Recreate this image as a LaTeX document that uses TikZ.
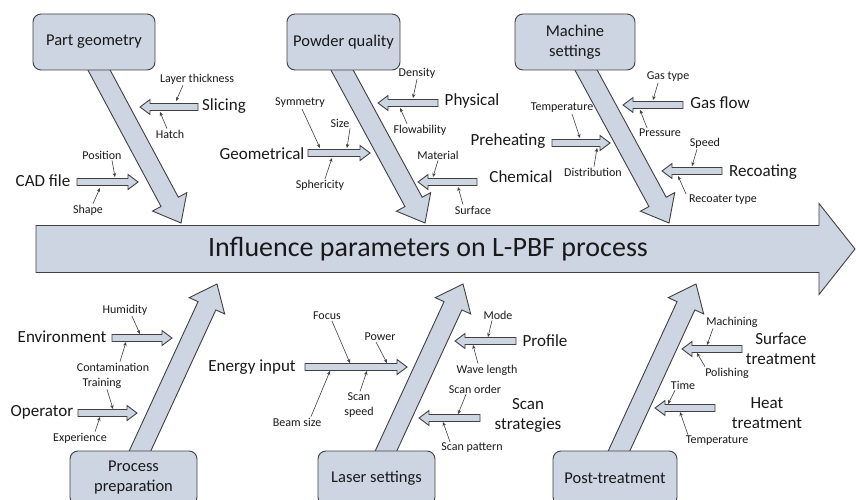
\documentclass[tikz,border=0pt]{standalone}
\usepackage{fontspec}
\setmainfont{Carlito}
\usetikzlibrary{calc,arrows.meta}

\definecolor{blockfill}{RGB}{205,213,227}
\definecolor{edgegray}{RGB}{64,64,64}
\definecolor{inkgray}{RGB}{25,25,25}

% block arrow: [opts]{from}{to}{half shaft width}{half head width}{head length}
\newcommand{\blockarrow}[6][]{%
  \coordinate (ba-p) at ($(#3)!#6!(#2)$);
  \draw[blockline,#1] ($(#2)!#4!90:(#3)$) -- ($(ba-p)!#4!90:(#3)$)
    -- ($(ba-p)!#5!90:(#3)$) -- (#3) -- ($(ba-p)!#5!-90:(#3)$)
    -- ($(ba-p)!#4!-90:(#3)$) -- ($(#2)!#4!-90:(#3)$) -- cycle;}
% small branch arrow
\newcommand{\branch}[2]{\blockarrow{#1}{#2}{3.5pt}{7.5pt}{10pt}}
% big category arrow
\newcommand{\bigarrow}[2]{\blockarrow{#1}{#2}{9.8pt}{19.5pt}{24pt}}
% pointer from a label (anchor, x shift) to a named target point
\newcommand{\pointer}[5]{\coordinate (#4) at (#5);
  \draw[pointer] ([xshift=#3pt]#1.#2) -- (#4);}

\begin{document}
\begin{tikzpicture}[x=1pt,y=-1pt,
  blockline/.style={draw=edgegray,fill=blockfill,line width=0.9pt,line join=miter},
  catbox/.style={draw=edgegray,fill=blockfill,line width=0.9pt,rounded corners=8pt,
    align=center,font=\fontsize{16.5}{20}\selectfont,text=inkgray,inner sep=0pt},
  cat/.style={font=\fontsize{17}{20}\selectfont,text=inkgray,align=center,inner sep=1pt},
  sub/.style={font=\fontsize{12}{15}\selectfont,text=inkgray,align=center,inner sep=1pt},
  pointer/.style={draw=edgegray,line width=0.6pt,-{Stealth[length=4pt,width=3.5pt]}}]

\clip (0,0) rectangle (856,500);
\fill[white] (0,0) rectangle (856,500);

% ---- main arrow ----
\coordinate (main-s) at (36,249);
\coordinate (main-e) at (855,249);
\blockarrow{main-s}{main-e}{23.5pt}{45.5pt}{36pt}
\node[font=\fontsize{28}{32}\selectfont,text=inkgray] (title) at (428,249)
  {Influence parameters on L-PBF process};

% ---- category arrows (drawn before the boxes so the boxes cover their roots) ----
\coordinate (pg-root) at (94.7,62);   \coordinate (pg-tip) at (181,223);
\coordinate (pq-root) at (337.7,62);  \coordinate (pq-tip) at (425,223);
\coordinate (ms-root) at (581.7,62);  \coordinate (ms-tip) at (669,223);
\coordinate (pp-root) at (136.3,459); \coordinate (pp-tip) at (217,284);
\coordinate (ls-root) at (382.3,459); \coordinate (ls-tip) at (463,284);
\coordinate (pt-root) at (615.3,459); \coordinate (pt-tip) at (696,284);
\bigarrow{pg-root}{pg-tip}
\bigarrow{pq-root}{pq-tip}
\bigarrow{ms-root}{ms-tip}
\bigarrow{pp-root}{pp-tip}
\bigarrow{ls-root}{ls-tip}
\bigarrow{pt-root}{pt-tip}

% ---- category boxes ----
\node[catbox,minimum width=122pt,minimum height=56pt] (pg) at (94,42) {Part geometry};
\node[catbox,minimum width=113pt,minimum height=56pt] (pq) at (343.5,42) {Powder quality};
\node[catbox,minimum width=120pt,minimum height=56pt] (ms) at (575,42) {Machine\\settings};
\node[catbox,minimum width=127pt,minimum height=54pt] (pp) at (133.5,478) {Process\\preparation};
\node[catbox,minimum width=117pt,minimum height=54pt] (ls) at (376.5,478) {Laser settings};
\node[catbox,minimum width=124pt,minimum height=54pt] (pt) at (615,478) {Post-treatment};

% ---- Part geometry ----
\coordinate (sl-t) at (198,107); \coordinate (sl-h) at (140,107); \branch{sl-t}{sl-h}
\node[cat] (sl) at (224,106) {Slicing};
\node[sub] (lt) at (197,79) {Layer thickness};
\node[sub] (ha) at (170,134) {Hatch};
\pointer{lt}{south}{-14}{lt-p}{176,101}
\pointer{ha}{north}{-3}{ha-p}{160,112}

\coordinate (cf-t) at (77,182); \coordinate (cf-h) at (138,182); \branch{cf-t}{cf-h}
\node[cat] (cf) at (43,181) {CAD file};
\node[sub] (po) at (102,155) {Position};
\node[sub] (sh) at (88,210) {Shape};
\pointer{po}{south}{10}{po-p}{115,177}
\pointer{sh}{north}{5}{sh-p}{100,188}

% ---- Powder quality ----
\coordinate (ph-t) at (438,103); \coordinate (ph-h) at (378,103); \branch{ph-t}{ph-h}
\node[cat] (ph) at (472,101) {Physical};
\node[sub] (de) at (417,73) {Density};
\node[sub] (fl) at (420,130) {Flowability};
\pointer{de}{south}{0}{de-p}{413,98}
\pointer{fl}{north}{-13}{fl-p}{400,108}

\coordinate (ge-t) at (308,153); \coordinate (ge-h) at (370,153); \branch{ge-t}{ge-h}
\node[cat] (ge) at (262,154) {Geometrical};
\node[sub] (sy) at (300,103) {Symmetry};
\node[sub] (si) at (340,123) {Size};
\node[sub] (sp) at (320,185) {Sphericity};
\pointer{sy}{south}{2}{sy-p}{320,148}
\pointer{si}{south}{10}{si-p}{347,148}
\pointer{sp}{north}{5}{sp-p}{332,158}

\coordinate (ch-t) at (477,182); \coordinate (ch-h) at (418,182); \branch{ch-t}{ch-h}
\node[cat] (ch) at (521,177) {Chemical};
\node[sub] (ma) at (438,155) {Material};
\node[sub] (su) at (473,210) {Surface};
\pointer{ma}{south}{0}{ma-p}{433,177}
\pointer{su}{north}{-10}{su-p}{458,187}

% ---- Machine settings ----
\coordinate (pr-t) at (552,143); \coordinate (pr-h) at (610,143); \branch{pr-t}{pr-h}
\node[cat] (pr) at (508,141) {Preheating};
\node[sub] (te) at (562,108) {Temperature};
\node[sub] (di) at (593,172) {Distribution};
\pointer{te}{south}{10}{te-p}{580,138}
\pointer{di}{north}{1}{di-p}{597,148}

\coordinate (gf-t) at (683,105); \coordinate (gf-h) at (623,105); \branch{gf-t}{gf-h}
\node[cat] (gf) at (720,103) {Gas flow};
\node[sub] (gt) at (668,77) {Gas type};
\node[sub] (pe) at (660,133) {Pressure};
\pointer{gt}{south}{-10}{gt-p}{653,100}
\pointer{pe}{north}{-13}{pe-p}{640,110}

\coordinate (rc-t) at (722,171); \coordinate (rc-h) at (662,171); \branch{rc-t}{rc-h}
\node[cat] (rc) at (763,172) {Recoating};
\node[sub] (spd) at (705,143) {Speed};
\node[sub] (rt) at (723,200) {Recoater type};
\pointer{spd}{south}{-8}{spd-p}{692,166}
\pointer{rt}{north}{-37}{rt-p}{678,176}

% ---- Process preparation ----
\coordinate (en-t) at (112,338); \coordinate (en-h) at (172,338); \branch{en-t}{en-h}
\node[cat] (en) at (62,337) {Environment};
\node[sub] (hu) at (125,310) {Humidity};
\node[sub] (co) at (113,367) {Contamination};
\pointer{hu}{south}{7}{hu-p}{140,334}
\pointer{co}{north}{7}{co-p}{126,342}

\coordinate (op-t) at (78,413); \coordinate (op-h) at (137,413); \branch{op-t}{op-h}
\node[cat] (op) at (42,412) {Operator};
\node[sub] (tr) at (102,383) {Training};
\node[sub] (ex) at (80,438) {Experience};
\pointer{tr}{south}{5}{tr-p}{113,409}
\pointer{ex}{north}{15}{ex-p}{100,417}

% ---- Laser settings ----
\coordinate (ei-t) at (305,367); \coordinate (ei-h) at (407,367); \branch{ei-t}{ei-h}
\node[cat] (ei) at (252,367) {Energy input};
\node[sub] (fo) at (327,316) {Focus};
\node[sub] (pw) at (380,337) {Power};
\node[sub] (bs) at (297,422) {Beam size};
\node[sub] (ss) at (359,405) {Scan\\speed};
\pointer{fo}{south}{5}{fo-p}{350,363}
\pointer{pw}{south}{-4}{pw-p}{387,363}
\pointer{bs}{north}{14}{bs-p}{330,371}
\pointer{ss}{north}{1}{ss-p}{367,371}

\coordinate (pf-t) at (516,341); \coordinate (pf-h) at (455,341); \branch{pf-t}{pf-h}
\node[cat] (pf) at (545,341) {Profile};
\node[sub] (mo) at (498,315) {Mode};
\node[sub] (wl) at (487,370) {Wave length};
\pointer{mo}{south}{-6}{mo-p}{488,337}
\pointer{wl}{north}{-9}{wl-p}{473,345}

\coordinate (sc-t) at (480,418); \coordinate (sc-h) at (419,418); \branch{sc-t}{sc-h}
\node[cat] (sc) at (528,415) {Scan\\strategies};
\node[sub] (so) at (475,389) {Scan order};
\node[sub] (sn) at (472,448) {Scan pattern};
\pointer{so}{south}{-9}{so-p}{458,414}
\pointer{sn}{north}{-22}{sn-p}{443,422}

% ---- Post-treatment ----
\coordinate (st-t) at (742,349); \coordinate (st-h) at (682,349); \branch{st-t}{st-h}
\node[cat] (st) at (781,349) {Surface\\treatment};
\node[sub] (mc) at (732,322) {Machining};
\node[sub] (pl) at (727,373) {Polishing};
\pointer{mc}{south}{-19}{mc-p}{707,345}
\pointer{pl}{north}{-22}{pl-p}{697,353}

\coordinate (ht-t) at (715,408); \coordinate (ht-h) at (655,408); \branch{ht-t}{ht-h}
\node[cat] (ht) at (767,413) {Heat\\treatment};
\node[sub] (ti) at (683,385) {Time};
\node[sub] (tm) at (717,441) {Temperature};
\pointer{ti}{south}{-8}{ti-p}{668,404}
\pointer{tm}{north}{-29}{tm-p}{680,412}

\end{tikzpicture}
\end{document}
